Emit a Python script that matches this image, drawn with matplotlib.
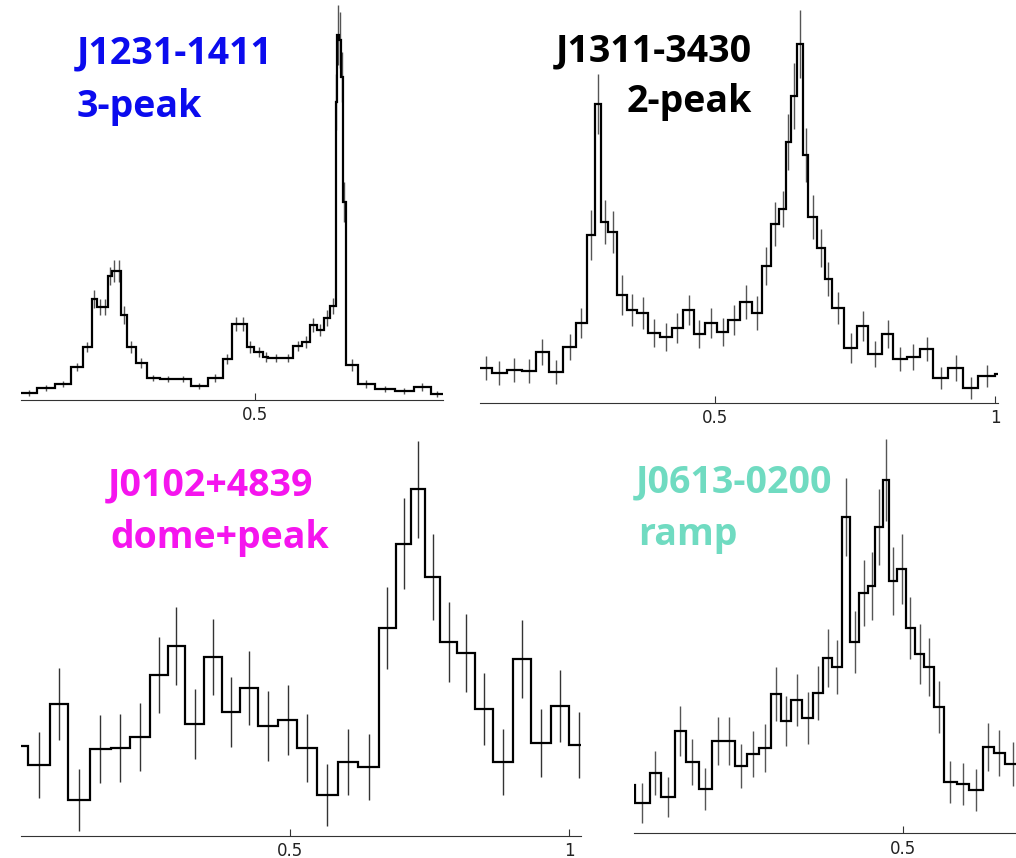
import numpy as np
import matplotlib
matplotlib.use("Agg")
import matplotlib.pyplot as plt

# ---------------------------------------------------------------
# Folded pulse profiles (phase bins, counts per bin, 1-sigma errors)
# ---------------------------------------------------------------

# J1231-1411, 3-peak
j1231_edges = [0.0, 0.0335, 0.0725, 0.1066, 0.1328, 0.1507, 0.1614, 0.1742, 0.1849,
               0.1934, 0.2047, 0.2132, 0.2254, 0.2446, 0.2680, 0.2964, 0.3311, 0.3618,
               0.3994, 0.4301, 0.4505, 0.4659, 0.4812, 0.4974, 0.5166, 0.5273, 0.5593,
               0.5806, 0.5998, 0.6162, 0.6305, 0.6467, 0.6588, 0.6710, 0.6744, 0.6780,
               0.6823, 0.6872, 0.6923, 0.7179, 0.7548, 0.7974, 0.8380, 0.8742, 0.9000]
j1231_counts = [7, 12, 16, 33, 53, 101, 93, 93, 124, 129, 129, 85, 53, 37, 22, 21, 21,
                14, 22, 41, 76, 76, 53, 48, 43, 42, 42, 54, 58, 75, 70, 82, 94, 298,
                365, 360, 323, 198, 35, 16, 11, 9, 13, 6]
j1231_errors = [3, 3, 3, 4, 5, 9, 8, 8, 9, 11, 11, 9, 6, 5, 3, 3, 3, 3, 4, 5, 7, 7, 6,
                5, 5, 4, 4, 5, 6, 7, 6, 8, 8, 28, 30, 28, 25, 20, 6, 4, 3, 3, 4, 3]

# J1311-3430, 2-peak
j1311_edges = [0.0818, 0.1026, 0.1294, 0.1561, 0.1810, 0.2047, 0.2302, 0.2528, 0.2719,
               0.2867, 0.2974, 0.3104, 0.3254, 0.3432, 0.3621, 0.3806, 0.4025, 0.4234,
               0.4440, 0.4631, 0.4827, 0.5036, 0.5242, 0.5451, 0.5659, 0.5837, 0.6003,
               0.6151, 0.6265, 0.6354, 0.6472, 0.6568, 0.6668, 0.6818, 0.6965, 0.7085,
               0.7304, 0.7541, 0.7737, 0.7976, 0.8182, 0.8421, 0.8658, 0.8895, 0.9163,
               0.9419, 0.9697, 0.9995, 1.0173]
j1311_counts = [35, 30, 33, 32, 51, 31, 56, 80, 168, 299, 181, 171, 108, 93, 90, 70, 66,
                75, 93, 69, 80, 71, 83, 101, 90, 137, 179, 194, 261, 307, 359, 248, 186,
                155, 124, 95, 55, 77, 49, 69, 44, 46, 54, 25, 35, 15, 27, 29]
j1311_errors = [12, 12, 12, 12, 13, 12, 13, 15, 25, 30, 22, 21, 20, 16, 16, 14, 14, 15,
                15, 14, 15, 14, 15, 17, 17, 19, 22, 18, 28, 33, 34, 27, 22, 19, 17, 16,
                15, 15, 13, 14, 12, 13, 12, 11, 13, 11, 11, 11]

# J0102+4839, dome+peak
j0102_edges = [-0.0038, 0.0316, 0.0704, 0.1032, 0.1420, 0.1791, 0.2136, 0.2494, 0.2811,
               0.3121, 0.3461, 0.3778, 0.4110, 0.4433, 0.4791, 0.5120, 0.5478, 0.5854,
               0.6222, 0.6588, 0.6897, 0.7166, 0.7416, 0.7685, 0.7994, 0.8306, 0.8639,
               0.8997, 0.9314, 0.9666, 0.9999, 1.0352]
j0102_counts = [90, 71, 132, 36, 87, 88, 99, 161, 190, 112, 179, 124, 148, 110, 116, 88,
                41, 74, 69, 208, 292, 346, 259, 194, 183, 127, 74, 177, 93, 130, 91]
j0102_errors = [33, 33, 36, 31, 34, 34, 34, 38, 39, 35, 38, 35, 37, 35, 35, 34, 31, 33,
                33, 41, 45, 48, 43, 40, 39, 36, 33, 39, 34, 36, 33]

# J0613-0200, ramp
j0613_edges = [-0.0160, 0.0192, 0.0461, 0.0668, 0.0908, 0.1116, 0.1338, 0.1576, 0.1778,
               0.1982, 0.2202, 0.2417, 0.2627, 0.2806, 0.2995, 0.3187, 0.3384, 0.3568,
               0.3729, 0.3908, 0.4046, 0.4212, 0.4374, 0.4493, 0.4631, 0.4749, 0.4893,
               0.5043, 0.5209, 0.5371, 0.5549, 0.5728, 0.5956, 0.6181, 0.6421, 0.6623,
               0.6820, 0.7089]
j0613_counts = [48, 30, 60, 36, 102, 71, 44, 92, 92, 67, 79, 85, 139, 112, 133, 115, 140,
                175, 166, 316, 191, 240, 247, 306, 353, 252, 264, 205, 179, 166, 126, 51,
                49, 43, 86, 80, 69]
j0613_errors = [20, 20, 22, 20, 25, 23, 21, 24, 24, 22, 23, 24, 27, 25, 26, 26, 27, 29,
                27, 39, 31, 33, 34, 38, 41, 34, 35, 31, 30, 29, 26, 21, 21, 21, 24, 23, 22]

# ---------------------------------------------------------------
W, H, DPI = 1016, 858, 100
fig = plt.figure(figsize=(W / DPI, H / DPI), dpi=DPI)
fig.patch.set_facecolor("white")


def px_axes(left, right, bottom, top):
    """Axes placed by pixel box (y measured from the top of the figure)."""
    return fig.add_axes([left / W, 1 - bottom / H, (right - left) / W, (bottom - top) / H])


def profile(ax, edges, counts, errors, xlim, ylim, ticks, ecolor):
    edges = np.asarray(edges, float)
    counts = np.asarray(counts, float)
    centers = 0.5 * (edges[:-1] + edges[1:])
    ax.errorbar(centers, counts, yerr=errors, fmt="none", ecolor=ecolor,
                elinewidth=1.0, capsize=0, zorder=2)
    ax.stairs(counts, edges, baseline=None, color="black", linewidth=1.6, zorder=3)
    ax.set_xlim(*xlim)
    ax.set_ylim(*ylim)
    for side in ("left", "right", "top"):
        ax.spines[side].set_visible(False)
    ax.spines["bottom"].set_color("#333333")
    ax.spines["bottom"].set_linewidth(0.8)
    ax.set_yticks([])
    ax.set_xticks(ticks)
    ax.set_xticklabels(["0.5" if t == 0.5 else "1" for t in ticks])
    ax.tick_params(axis="x", direction="in", length=5, width=0.8, color="#333333",
                   pad=4.5, labelsize=12, labelcolor="#222222")
    ax.patch.set_alpha(0)


ax1 = px_axes(21, 443, 400, 0)
profile(ax1, j1231_edges, j1231_counts, j1231_errors, (0.0, 0.9), (0, 400), [0.5], "#555555")

ax2 = px_axes(480, 998.3, 403, 0)
profile(ax2, j1311_edges, j1311_counts, j1311_errors, (0.0818, 1.0053), (0, 403), [0.5, 1.0], "#555555")

ax3 = px_axes(21, 581, 835.5, 430)
profile(ax3, j0102_edges, j0102_counts, j0102_errors, (0.0185, 1.0208), (0, 405.5), [0.5, 1.0], "#333333")

# this panel runs past the right edge of the figure, so only the 0.5 tick shows
ax4 = px_axes(634, 1194.4, 833.3, 430)
profile(ax4, j0613_edges, j0613_counts, j0613_errors, (0.018, 1.021), (0, 403.3), [0.5], "#555555")

# Source names and profile classes
label_font = dict(family=["Open Sans", "DejaVu Sans"], fontweight="bold", fontsize=27)


def label(x, y, s, color, ha="left"):
    fig.text(x / W, 1 - y / H, s, color=color, ha=ha, va="baseline", **label_font)


label(77, 63.3, "J1231-1411", "#0B0BEE")
label(77, 116.7, "3-peak", "#0B0BEE")
label(752, 61.7, "J1311-3430", "black", ha="right")
label(752, 111.7, "2-peak", "black", ha="right")
label(108, 495, "J0102+4839", "#F515EE")
label(110, 548, "dome+peak", "#F515EE")
label(636, 492, "J0613-0200", "#70DBC1")
label(638, 545, "ramp", "#70DBC1")

fig.savefig("out.png", dpi=DPI)
